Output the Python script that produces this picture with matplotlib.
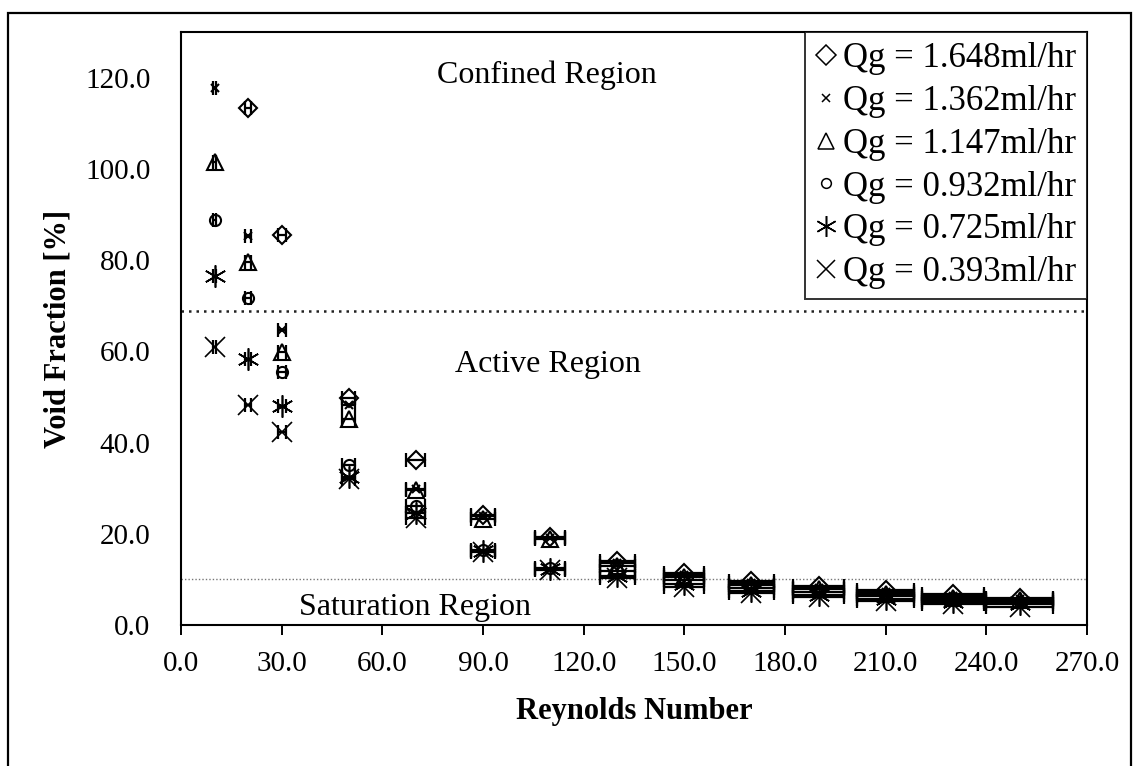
import numpy as np
import matplotlib
matplotlib.use("Agg")
import matplotlib.pyplot as plt
from matplotlib.lines import Line2D
from matplotlib.patches import Rectangle

plt.rcParams['font.family'] = ['Liberation Serif', 'DejaVu Serif']

# Reynolds numbers
reynolds = [10, 20, 30, 50, 70, 90, 110, 130, 150, 170, 190, 210, 230, 250]

# Void fraction [%] for each gas flow rate
vf_1648 = [np.nan, 113.4, 85.5, 49.8, 36.2, 24.1, 19.3, 14.0, 11.5, 9.6, 8.6, 7.6, 6.8, 6.0]
vf_1362 = [117.8, 85.3, 64.7, 48.2, 29.8, 23.8, 19.0, 13.5, 11.0, 9.2, 8.2, 7.2, 6.4, 5.7]
vf_1147 = [101.5, 79.6, 59.9, 45.2, 29.5, 23.3, 18.8, 13.0, 10.6, 8.8, 7.8, 6.8, 6.0, 5.4]
vf_0932 = [88.8, 71.7, 55.5, 35.0, 26.0, 16.5, 12.6, 11.8, 9.8, 8.2, 7.2, 6.3, 5.5, 5.0]
vf_0725 = [76.5, 58.3, 48.0, 32.5, 24.5, 16.2, 12.2, 10.8, 9.0, 7.5, 6.6, 5.8, 5.0, 4.5]
vf_0393 = [61.0, 48.2, 42.3, 32.0, 23.5, 16.0, 12.0, 10.2, 8.4, 7.0, 6.2, 5.3, 4.6, 4.0]

series_labels = ["Qg = 1.648ml/hr", "Qg = 1.362ml/hr", "Qg = 1.147ml/hr",
                 "Qg = 0.932ml/hr", "Qg = 0.725ml/hr", "Qg = 0.393ml/hr"]

# relative uncertainty of the Reynolds number
re_rel_err = 0.04

# region boundaries [%]
confined_limit = 68.8
saturation_limit = 10.0

x_ticks = [0, 30, 60, 90, 120, 150, 180, 210, 240, 270]
y_ticks = [0, 20, 40, 60, 80, 100, 120]

W, H = 1135, 766
fig = plt.figure(figsize=(W / 100, H / 100), dpi=100)
ax = fig.add_axes([181 / W, 1 - 625 / H, (1087 - 181) / W, (625 - 32) / H])

# outer chart frame
fig.patches.append(Rectangle((8 / W, -0.01), (1131 - 8) / W, 1 - 13 / H + 0.01,
                             transform=fig.transFigure, fill=False,
                             edgecolor='black', linewidth=1.6))

asterisk = (6, 2, 0)
styles = [
    dict(marker='D', ms=9, mew=1.5),
    dict(marker='x', ms=6, mew=1.5),
    dict(marker='^', ms=11, mew=1.5),
    dict(marker='o', ms=8, mew=1.5),
    dict(marker=asterisk, ms=16, mew=1.2),
    dict(marker='x', ms=14, mew=1.2),
]
all_series = [vf_1648, vf_1362, vf_1147, vf_0932, vf_0725, vf_0393]

re = np.array(reynolds, dtype=float)
for vals, st, lab in zip(all_series, styles, series_labels):
    v = np.array(vals, dtype=float)
    ax.errorbar(re, v, xerr=re * re_rel_err, fmt='none', ecolor='black',
                elinewidth=1.6, capsize=5, capthick=1.6, zorder=2)
    ax.plot(re, v, linestyle='none', color='black', mfc='none', zorder=3, **st)

# region boundaries
ax.axhline(confined_limit, color='#222222', linestyle=(0, (1, 2)), linewidth=1.8, zorder=1)
ax.axhline(saturation_limit, color='#777777', linestyle=(0, (1, 1.5)), linewidth=1.0, zorder=1)

ax.text(109, 120.6, "Confined Region", ha='center', va='center', fontsize=23)
ax.text(109.4, 57.0, "Active Region", ha='center', va='center', fontsize=23)
ax.text(69.7, 3.9, "Saturation Region", ha='center', va='center', fontsize=23)

ax.set_xlim(0, 270)
ax.set_ylim(0, 130)
ax.set_xticks(x_ticks)
ax.set_yticks(y_ticks)
ax.set_xticklabels([f"{t:.1f}" for t in x_ticks])
ax.set_yticklabels([f"{t:.1f}" for t in y_ticks])
ax.tick_params(axis='x', direction='out', length=7, width=1.4, labelsize=21, pad=12)
ax.tick_params(axis='y', direction='out', length=0, labelsize=21, pad=22)
for sp in ax.spines.values():
    sp.set_linewidth(1.5)

ax.set_xlabel("Reynolds Number", fontsize=22, fontweight='bold', labelpad=14)
ax.set_ylabel("Void Fraction [%]", fontsize=22, fontweight='bold', labelpad=9)

legend_ms = [10, 6, 11, 7, 15, 13]
handles = [Line2D([], [], linestyle='none', color='black', mfc='none',
                  marker=st['marker'], ms=m, mew=1.1) for st, m in zip(styles, legend_ms)]
leg = ax.legend(handles, series_labels, loc='upper right', fontsize=25,
                frameon=True, fancybox=False, borderaxespad=0, handlelength=0.6,
                handletextpad=0.2, labelspacing=0.28, borderpad=0.3)
leg.get_frame().set_edgecolor('black')
leg.get_frame().set_linewidth(1.4)

fig.savefig("out.png", dpi=100, facecolor='white')
